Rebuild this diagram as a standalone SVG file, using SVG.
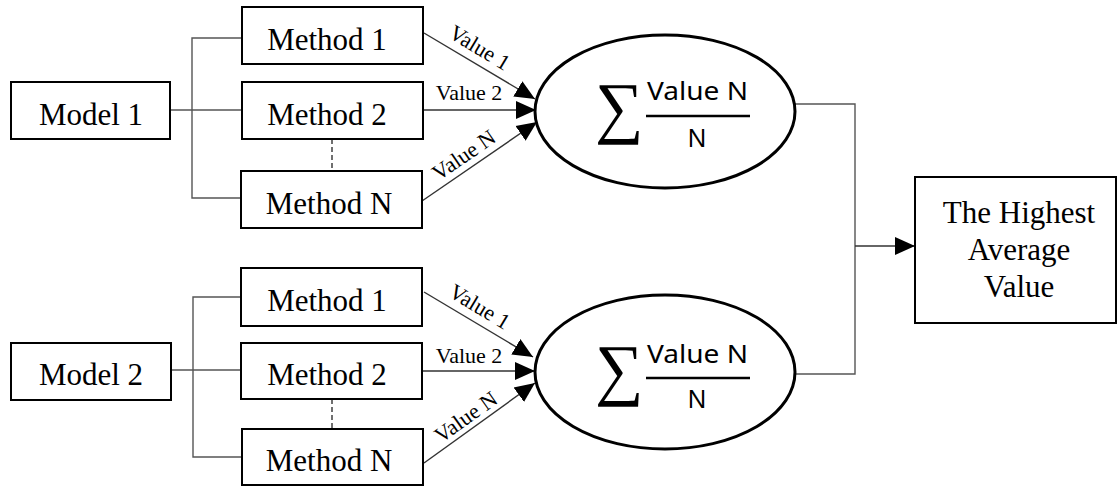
<svg xmlns="http://www.w3.org/2000/svg" width="1118" height="486" viewBox="0 0 1118 486">
<style>
.box{fill:#fff;stroke:#000;stroke-width:2}
.ell{fill:#fff;stroke:#000;stroke-width:3}
.t{font-family:"Liberation Serif","Times New Roman",serif;font-size:31px;text-anchor:middle;fill:#000}
.v{font-family:"Liberation Serif","Times New Roman",serif;font-size:22px;text-anchor:middle;fill:#000}
.f{font-family:"Noto Sans","Open Sans",sans-serif;font-size:25px;text-anchor:middle;fill:#000}
.sig{font-family:"Liberation Serif","DejaVu Serif",serif;font-size:68px;fill:#000}
.ln{fill:none;stroke:#555;stroke-width:1.4}
.ar{fill:none;stroke:#333;stroke-width:1.4;marker-end:url(#ah)}
.dash{fill:none;stroke:#333;stroke-width:1.4;stroke-dasharray:5,3}
.bar{stroke:#000;stroke-width:2.5}
</style>
<defs>
<marker id="ah" markerUnits="userSpaceOnUse" markerWidth="20" markerHeight="20" viewBox="0 0 18 16" refX="18" refY="8" orient="auto">
<path d="M0,0 L18,8 L0,16 Z" fill="#000"/>
</marker>
</defs>
<g id="connectors">
<path class="ln" d="M171 110 H242 M242 38 H192 V198 H241"/>
<path class="ln" d="M171 370 H241 M241 297 H193 V457 H242"/>
<path class="dash" d="M332 139 V171"/>
<path class="dash" d="M332 399 V429"/>
<path class="ar" d="M424 33 L535 99"/>
<path class="ar" d="M423 110 L536 110"/>
<path class="ar" d="M422 201 L537 122"/>
<path class="ar" d="M424 292 L533 357"/>
<path class="ar" d="M422 371 L535 371"/>
<path class="ar" d="M424 463 L535 383"/>
<path class="ln" d="M795 104 H855 V374 H795"/>
<path class="ar" d="M855 246 H915"/>
<text class="v" transform="translate(476,54) rotate(31)">Value 1</text>
<text class="v" x="469" y="100">Value 2</text>
<text class="v" transform="translate(468,161) rotate(-34.5)">Value N</text>
<text class="v" transform="translate(476,313) rotate(31)">Value 1</text>
<text class="v" x="469" y="363">Value 2</text>
<text class="v" transform="translate(470,423) rotate(-35.5)">Value N</text>
</g>
<g id="model1"><rect class="box" x="11" y="82" width="159" height="57"/><text class="t" x="91" y="125">Model 1</text></g>
<g id="m1a"><rect class="box" x="242" y="7" width="181" height="57"/><text class="t" x="327" y="50">Method 1</text></g>
<g id="m2a"><rect class="box" x="242" y="82" width="181" height="57"/><text class="t" x="327" y="125">Method 2</text></g>
<g id="mNa"><rect class="box" x="241" y="171" width="181" height="57"/><text class="t" x="329" y="214">Method N</text></g>
<g id="model2"><rect class="box" x="11" y="343" width="160" height="57"/><text class="t" x="91" y="385">Model 2</text></g>
<g id="m1b"><rect class="box" x="241" y="268" width="181" height="58"/><text class="t" x="327" y="311">Method 1</text></g>
<g id="m2b"><rect class="box" x="241" y="343" width="181" height="56"/><text class="t" x="327" y="385">Method 2</text></g>
<g id="mNb"><rect class="box" x="242" y="429" width="181" height="56"/><text class="t" x="329" y="471">Method N</text></g>
<g id="sum1">
<ellipse class="ell" cx="665" cy="111.5" rx="130" ry="76.5"/>
<text class="sig" x="595" y="130">∑</text>
<text class="f" x="697.5" y="100" textLength="101" lengthAdjust="spacingAndGlyphs">Value N</text>
<line class="bar" x1="646" y1="116" x2="750" y2="116"/>
<text class="f" x="697" y="147">N</text>
</g>
<g id="sum2">
<ellipse class="ell" cx="665" cy="372" rx="130" ry="77"/>
<text class="sig" x="595" y="392">∑</text>
<text class="f" x="697.5" y="363" textLength="101" lengthAdjust="spacingAndGlyphs">Value N</text>
<line class="bar" x1="646" y1="378" x2="750" y2="378"/>
<text class="f" x="697" y="408">N</text>
</g>
<g id="result">
<rect class="box" x="915" y="177" width="201" height="146"/>
<text class="t" x="1019" y="223">The Highest</text>
<text class="t" x="1019" y="260">Average</text>
<text class="t" x="1019" y="297">Value</text>
</g>
</svg>
